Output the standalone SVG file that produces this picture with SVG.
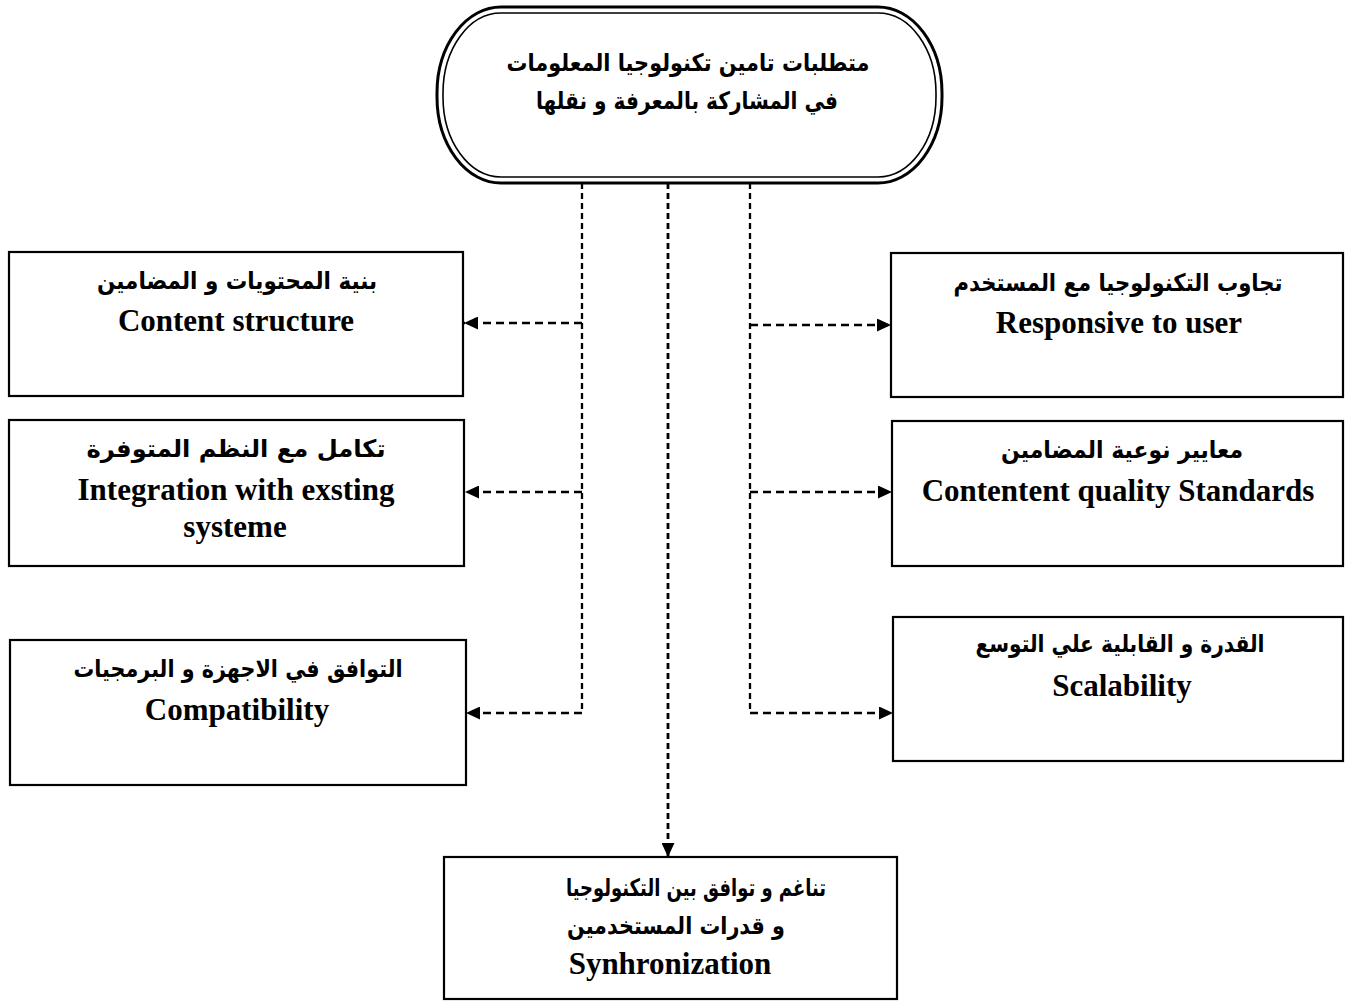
<svg xmlns="http://www.w3.org/2000/svg" width="1345" height="1002" viewBox="0 0 1345 1002">
  <style>
    .box { fill: #ffffff; stroke: #000000; stroke-width: 2.2; }
    .pill-out { fill: none; stroke: #000000; stroke-width: 3; }
    .pill-in { fill: none; stroke: #000000; stroke-width: 1.6; }
    .ar { font-family: "DejaVu Sans", "Noto Sans", sans-serif; font-weight: bold; font-size: 24px; fill: #000000; text-anchor: middle; direction: rtl; }
    .en { font-family: "Liberation Serif", "Times New Roman", serif; font-weight: bold; font-size: 31px; fill: #000000; text-anchor: middle; }
    .conn { fill: none; stroke: #000000; stroke-width: 2.3; stroke-dasharray: 6 4; }
    .branch { fill: none; stroke: #000000; stroke-width: 2.4; stroke-dasharray: 8 5; }
  </style>
  <defs>
    <marker id="arrow" markerUnits="userSpaceOnUse" markerWidth="15" markerHeight="13" refX="14" refY="6.5" orient="auto">
      <path d="M0,0 L14,6.5 L0,13 z" fill="#000000"/>
    </marker>
  </defs>

  <rect x="0" y="0" width="1345" height="1002" fill="#ffffff"/>

  <!-- connectors -->
  <g id="connectors">
    <!-- left trunk with its three branches -->
    <path class="conn" d="M582,183 V713"/>
    <path class="branch" d="M582,713 H466" marker-end="url(#arrow)"/>
    <path class="branch" d="M582,323 H464" marker-end="url(#arrow)"/>
    <path class="branch" d="M582,492 H465" marker-end="url(#arrow)"/>
    <!-- right trunk with its three branches -->
    <path class="conn" d="M750,183 V713"/>
    <path class="branch" d="M750,713 H893" marker-end="url(#arrow)"/>
    <path class="branch" d="M750,325 H891" marker-end="url(#arrow)"/>
    <path class="branch" d="M750,492 H892" marker-end="url(#arrow)"/>
    <!-- centre line down to the bottom box -->
    <path class="conn" style="stroke-width:2.8" d="M668,183 V857" marker-end="url(#arrow)"/>
  </g>

  <!-- root node -->
  <g id="node-root">
    <rect class="pill-out" x="437" y="7" width="505" height="176" rx="64" ry="86"/>
    <rect class="pill-in" x="443" y="13" width="493" height="164" rx="58" ry="80"/>
    <text class="ar" x="688" y="71" textLength="363" lengthAdjust="spacingAndGlyphs">متطلبات تامين تكنولوجيا المعلومات</text>
    <text class="ar" x="687" y="109" textLength="302" lengthAdjust="spacingAndGlyphs">في المشاركة بالمعرفة و نقلها</text>
  </g>

  <!-- left column -->
  <g id="node-content-structure">
    <rect class="box" x="9" y="252" width="454" height="144"/>
    <text class="ar" x="237" y="289" textLength="280" lengthAdjust="spacingAndGlyphs">بنية المحتويات و المضامين</text>
    <text class="en" x="236" y="331">Content structure</text>
  </g>
  <g id="node-integration">
    <rect class="box" x="9" y="420" width="455" height="146"/>
    <text class="ar" x="236" y="457" textLength="299" lengthAdjust="spacingAndGlyphs">تكامل مع النظم المتوفرة</text>
    <text class="en" x="236" y="500">Integration with exsting</text>
    <text class="en" x="235" y="537">systeme</text>
  </g>
  <g id="node-compatibility">
    <rect class="box" x="10" y="640" width="456" height="145"/>
    <text class="ar" x="238" y="677" textLength="329" lengthAdjust="spacingAndGlyphs">التوافق في الاجهزة و البرمجيات</text>
    <text class="en" x="237" y="720">Compatibility</text>
  </g>

  <!-- right column -->
  <g id="node-responsive">
    <rect class="box" x="891" y="253" width="452" height="144"/>
    <text class="ar" x="1118" y="291" textLength="329" lengthAdjust="spacingAndGlyphs">تجاوب التكنولوجيا مع المستخدم</text>
    <text class="en" x="1119" y="333">Responsive to user</text>
  </g>
  <g id="node-quality">
    <rect class="box" x="892" y="421" width="451" height="145"/>
    <text class="ar" x="1122" y="458" textLength="242" lengthAdjust="spacingAndGlyphs">معايير نوعية المضامين</text>
    <text class="en" x="1118" y="501">Contentent quality Standards</text>
  </g>
  <g id="node-scalability">
    <rect class="box" x="893" y="617" width="450" height="144"/>
    <text class="ar" x="1120" y="652" textLength="289" lengthAdjust="spacingAndGlyphs">القدرة و القابلية علي التوسع</text>
    <text class="en" x="1122" y="696">Scalability</text>
  </g>

  <!-- bottom node -->
  <g id="node-synchronization">
    <rect class="box" x="444" y="857" width="453" height="142"/>
    <text class="ar" x="696" y="896" textLength="260" lengthAdjust="spacingAndGlyphs">تناغم و توافق بين التكنولوجيا</text>
    <text class="ar" x="676" y="934" textLength="218" lengthAdjust="spacingAndGlyphs">و قدرات المستخدمين</text>
    <text class="en" x="670" y="974">Synhronization</text>
  </g>
</svg>
